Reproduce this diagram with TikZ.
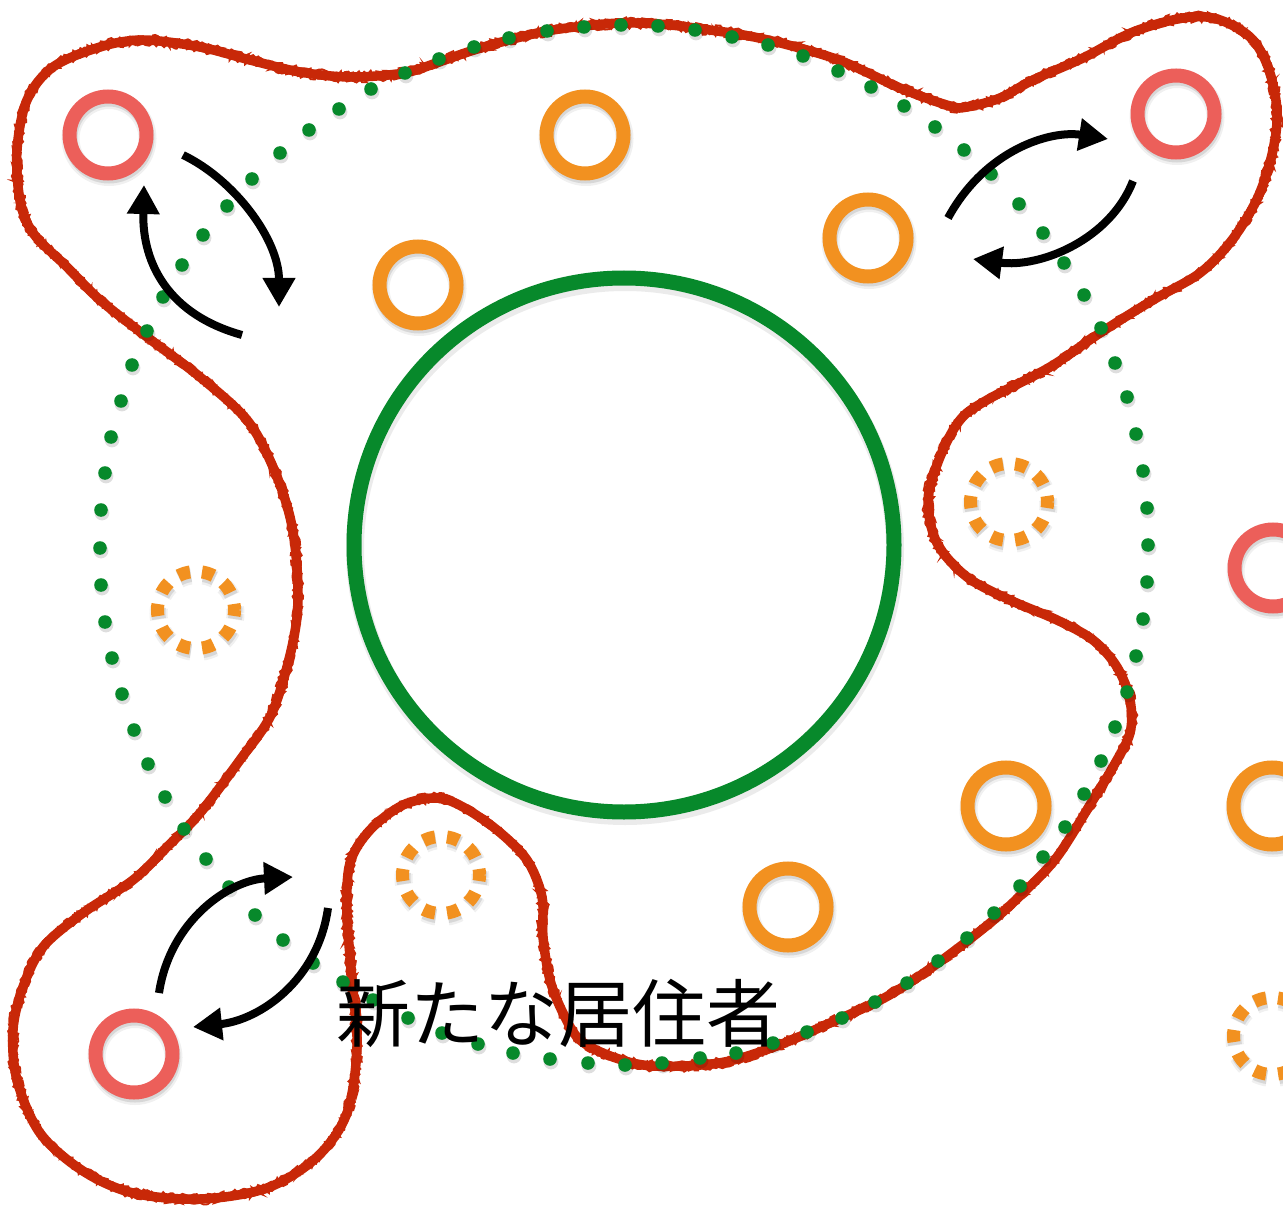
\documentclass[tikz,border=0pt]{standalone}
\usepackage{fontspec}
\newfontfamily\jpfont{Noto Sans CJK JP}
\usetikzlibrary{arrows.meta,shapes.geometric,decorations.pathmorphing}
\definecolor{ringpink}{HTML}{EC5F5A}
\definecolor{ringorange}{HTML}{F29120}
\definecolor{coregreen}{HTML}{07892B}
\definecolor{crayon}{HTML}{C82808}
\tikzset{
  ring/.style={circle, draw, line width=14pt, minimum size=77pt, inner sep=0pt},
  pinkring/.style={ring, draw=ringpink},
  orangering/.style={ring, draw=ringorange},
  dashring/.style={ring, draw=ringorange, line width=13pt, dash pattern=on 12.1pt off 12.09pt, dash phase=6.05pt},
  shadowA/.style={draw=black, opacity=0.06, line width=18pt},
  shadowB/.style={draw=black, opacity=0.10, line width=14pt},
  dashshadowA/.style={shadowA, dash pattern=on 12.1pt off 12.09pt, dash phase=6.05pt},
  dashshadowB/.style={shadowB, dash pattern=on 12.1pt off 12.09pt, dash phase=6.05pt},
  crayonline/.style={draw=crayon, line width=9.5pt, line join=round},
  crayonedge/.style={draw=crayon, line width=1.8pt, decorate,
     decoration={random steps, segment length=2.4pt, amplitude=2pt}},
  flow/.style={line width=8pt, draw=black, -{Triangle[length=29pt,width=31pt]}},
  greendot/.style={fill=coregreen},
  dotshadow/.style={fill=black, opacity=0.13},
}
\begin{document}
\begin{tikzpicture}[x=1pt,y=-1pt]
\useasboundingbox (0,0) rectangle (1283,1206);
\clip (0,0) rectangle (1283,1206);
\fill[white] (0,0) rectangle (1283,1206);

% red crayon outline
\def\redpath{plot[smooth cycle, tension=0.55] coordinates {
(17,150) (27,100) (53,67) (100,47) (143,40) (200,47) (250,60) (300,72) (350,77) (404,73)
(439,62) (474,50) (509,40) (547,31) (584,26) (621,23) (658,24) (695,28) (759,38) (836,59)
(900,88) (950,106) (967,107) (1000,98) (1033,80) (1083,58) (1133,32) (1183,18) (1217,19)
(1250,37) (1268,67) (1277,110) (1273,150) (1258,197) (1232,240) (1200,273) (1153,300)
(1100,333) (1050,367) (987,400) (960,420) (940,457) (928,500) (937,543) (967,577) (1010,600)
(1057,620) (1093,640) (1117,667) (1130,700) (1130,733) (1113,767) (1093,800) (1057,857)
(1023,893) (990,923) (938,963) (886,997) (830,1023) (774,1047) (719,1063) (653,1066)
(613,1057) (580,1040) (563,1013) (550,980) (543,937) (542,897) (527,860) (497,830)
(463,807) (437,798) (403,805) (370,830) (350,863) (347,913) (352,980) (357,1047)
(347,1113) (317,1157) (267,1188) (200,1199) (133,1193) (83,1171) (40,1133) (17,1080)
(13,1030) (23,987) (43,947) (83,913) (133,880) (167,847) (200,813) (240,760) (270,717)
(287,667) (297,617) (297,567) (290,517) (273,467) (247,420) (200,377) (147,337) (100,300)
(67,267) (33,233) (20,200)}}
\draw[crayonline] \redpath;
\pgfmathsetseed{7}
\draw[crayonedge, transform canvas={shift={(0pt,3.8pt)}}] \redpath;
\pgfmathsetseed{11}
\draw[crayonedge, transform canvas={shift={(0pt,-3.8pt)}}] \redpath;
\pgfmathsetseed{19}
\draw[crayonedge, transform canvas={shift={(3.8pt,0pt)}}] \redpath;
\pgfmathsetseed{23}
\draw[crayonedge, transform canvas={shift={(-3.8pt,0pt)}}] \redpath;

% central green circle
\draw[draw=black, opacity=0.08, line width=18pt] (625,549) ellipse[x radius=270, y radius=267];
\node[ellipse, draw=coregreen, line width=15pt, minimum width=540pt, minimum height=534pt, inner sep=0pt] (core) at (624,545) {};

% green dotted boundary
\foreach \x/\y in {405/73,439/59,474/47,509/38,547/31,584/27,621/25,658/26,695/30,732/37,
768/45,803/56,838/71,871/87,904/106,935/127,964/150,991/174,1019/204,1043/233,1064/263,
1084/295,1101/328,1115/363,1127/397,1136/434,1143/471,1147/508,1148/545,1147/582,1143/619,
1136/656,1127/692,1115/727,1101/761,1084/794,1065/827,1043/857,1020/886,994/913,967/938,
938/961,907/983,875/1002,842/1018,807/1032,773/1043,736/1053,700/1058,662/1063,625/1065,
588/1063,550/1059,513/1053,478/1044,442/1033,408/1018,373/1000,343/982,313/963,283/940,
255/915,229/887,206/859,184/829,165/797,148/764,134/730,122/694,112/658,105/622,101/585,
100/548,101/510,105/473,111/437,121/401,132/365,147/331,163/297,182/265,203/235,227/206,
252/179,280/153,309/130,339/109,371/89}
{\fill[dotshadow] (\x+1,\y+3) circle[radius=7.4];
 \fill[greendot] (\x,\y) circle[radius=6.8];}

% ring shadows
\foreach \x/\y in {108/135,1176/114,134/1054,1273/568,585/135,418/285,868/238,1006/806,788/907,1272/806}
{\draw[shadowA] (\x+1,\y+3.5) circle[radius=38.5];
 \draw[shadowB] (\x+1,\y+3) circle[radius=38.5];}
\foreach \x/\y in {196/610,1009/502,441/875,1272/1036}
{\draw[dashshadowA] (\x+1,\y+3.5) circle[radius=38.5];
 \draw[dashshadowB] (\x+1,\y+3) circle[radius=38.5];}

% residents
\node[pinkring] (p1) at (108,135) {};
\node[pinkring] (p2) at (1176,114) {};
\node[pinkring] (p3) at (134,1054) {};
\node[pinkring] (p4) at (1273,568) {};
\node[orangering] (o1) at (585,135) {};
\node[orangering] (o2) at (418,285) {};
\node[orangering] (o3) at (868,238) {};
\node[orangering] (o4) at (1006,806) {};
\node[orangering] (o5) at (788,907) {};
\node[orangering] (o6) at (1272,806) {};
\node[dashring] (d1) at (196,610) {};
\node[dashring] (d2) at (1009,502) {};
\node[dashring] (d3) at (441,875) {};
\node[dashring] (d4) at (1272,1036) {};

% exchange arrows
\coordinate (a1s) at (242,335); \coordinate (a1e) at (144,185);
\coordinate (a2s) at (183,155); \coordinate (a2e) at (279,307);
\coordinate (a3s) at (948,218); \coordinate (a3e) at (1108,139);
\coordinate (a4s) at (1133,181); \coordinate (a4e) at (973,259);
\coordinate (a5s) at (159,993); \coordinate (a5e) at (293,877);
\coordinate (a6s) at (328,908); \coordinate (a6e) at (193,1027);
\draw[flow] (a1s) .. controls (170,315) and (142,265) .. (a1e);
\draw[flow] (a2s) .. controls (235,180) and (279,240) .. (a2e);
\draw[flow] (a3s) .. controls (985,150) and (1050,130) .. (a3e);
\draw[flow] (a4s) .. controls (1110,240) and (1040,268) .. (a4e);
\draw[flow] (a5s) .. controls (170,920) and (230,880) .. (a5e);
\draw[flow] (a6s) .. controls (318,980) and (260,1020) .. (a6e);

% label
\node[font=\jpfont\fontsize{74}{80}\selectfont, inner sep=0pt, text=black] (newres) at (558,1013) {新たな居住者};
\end{tikzpicture}
\end{document}
